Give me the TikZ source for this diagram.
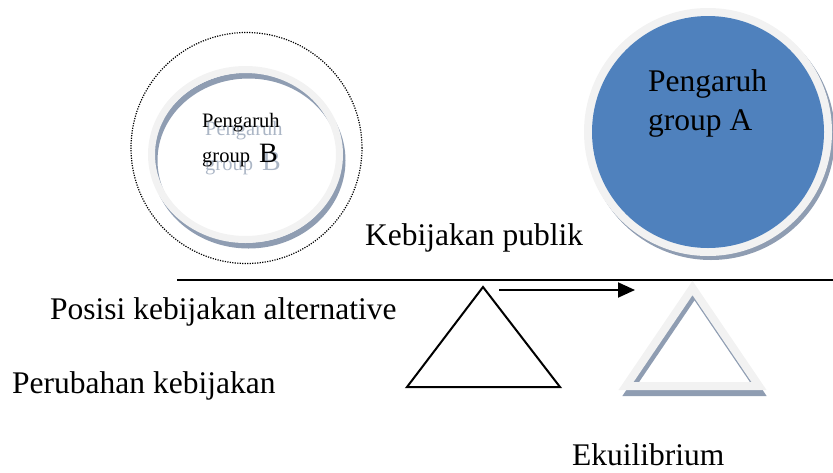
\documentclass[tikz,border=0pt]{standalone}
\usepackage{fontspec}
\setmainfont{Liberation Serif}
\usetikzlibrary{arrows.meta,positioning}
\definecolor{ink}{RGB}{0,0,0}
\definecolor{groupblue}{RGB}{79,129,189}
\definecolor{rim}{RGB}{242,242,242}
\definecolor{rimshade}{RGB}{143,157,178}
\tikzset{
  every picture/.style={x=1pt, y=-1pt, color=ink},
  lbl/.style={font=\fontsize{31.5}{36}\selectfont, inner sep=0pt, anchor=base west},
  smalllbl/.style={font=\fontsize{20.5}{24}\selectfont, inner sep=0pt, anchor=base west},
  ghostlbl/.style={smalllbl, text=rimshade, opacity=0.75},
  rimline/.style={draw=rim, line width=7pt},
  shadeline/.style={draw=rimshade, line width=6pt},
  flow/.style={-{Triangle[length=17pt,width=15pt]}, line width=2pt},
  tri/.style={line width=2pt, line join=miter},
}
\newcommand{\bigB}{{\fontsize{28}{30}\selectfont B}}

\begin{document}
\begin{tikzpicture}
  \useasboundingbox (0,0) rectangle (833,472);
  % group B
  \draw[line width=1.2pt, dash pattern=on 1.2pt off 1.3pt] (246.5,148) circle[radius=115.5pt];
  \draw[shadeline] (248.5,160.5) ellipse[x radius=94pt, y radius=85pt];
  \draw[rimline] (245.5,154.5) ellipse[x radius=94pt, y radius=85pt];
  \node[ghostlbl] (ghostB1) at (205,135) {Pengaruh};
  \node[ghostlbl] (ghostB2) at (205,170) {group\hspace{9pt}\bigB};
  \node[smalllbl] (textB1) at (202,127) {Pengaruh};
  \node[smalllbl] (textB2) at (202,162) {group\hspace{9pt}\bigB};
  % group A
  \fill[rimshade] (711,136) circle[radius=124pt];
  \fill[rim] (708,132) circle[radius=124pt];
  \fill[groupblue] (708,132) circle[radius=116pt];
  \node[lbl] (textA1) at (648,91) {Pengaruh};
  \node[lbl] (textA2) at (648,130) {group A};
  % labels
  \node[lbl] (publik) at (365,245) {Kebijakan publik};
  \node[lbl] (posisi) at (50,319) {Posisi kebijakan alternative};
  \node[lbl] (ubah) at (12,393) {Perubahan kebijakan};
  \node[lbl] (ekui) at (572,465) {Ekuilibrium};
  % policy line
  \coordinate (lineL) at (177,280);
  \coordinate (lineR) at (833,280);
  \draw[line width=1.5pt] (lineL) -- (lineR);
  % old position
  \coordinate (oldtop) at (483,287);
  \draw[tri] (oldtop) -- (407,387) -- (560,387) -- cycle;
  % equilibrium
  \coordinate (eqtop) at (692.5,288);
  \draw[shadeline, line join=miter] (694.5,295) -- (628,393) -- (761,393) -- cycle;
  \draw[rimline, line width=8pt, line join=miter] (eqtop) -- (626,386) -- (759,386) -- cycle;
  % shift
  \coordinate (shiftS) at (499,290);
  \coordinate (shiftE) at (635,290);
  \draw[flow] (shiftS) -- (shiftE);
\end{tikzpicture}
\end{document}
